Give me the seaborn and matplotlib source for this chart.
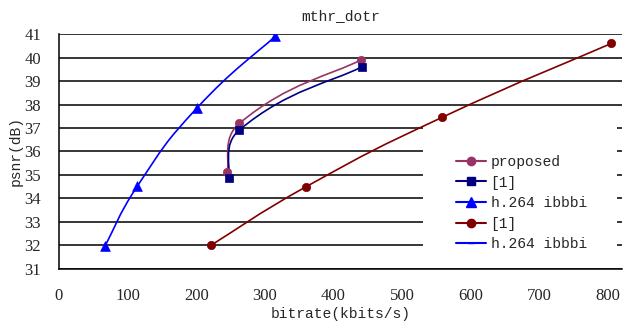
import numpy as np
import pandas as pd
import seaborn as sns
import matplotlib
matplotlib.use("Agg")
from matplotlib import pyplot as plt
from matplotlib.path import Path
from matplotlib.patches import PathPatch, Rectangle
from matplotlib.lines import Line2D

# data
proposed_rate = [245, 263, 440]
proposed_psnr = [35.13, 37.2, 39.9]
ref1_rate = [247, 263, 441]
ref1_psnr = [34.87, 36.92, 39.6]
h264_rate = [67, 114, 201, 315]
h264_psnr = [31.97, 34.52, 37.85, 40.9]
ref1b_rate = [221, 360, 558, 805]
ref1b_psnr = [32.0, 34.5, 37.45, 40.6]

x_ticks = [0, 100, 200, 300, 400, 500, 600, 700, 800]
y_ticks = [31, 32, 33, 34, 35, 36, 37, 38, 39, 40, 41]

series = [
    ("proposed", proposed_rate, proposed_psnr, "#993366", "o", 6),
    ("[1]", ref1_rate, ref1_psnr, "#000080", "s", 6),
    ("h.264 ibbbi", h264_rate, h264_psnr, "#0000FF", "^", 7),
    ("[1]", ref1b_rate, ref1b_psnr, "#800000", "o", 6),
]

TEXT_FONT = ["Liberation Mono", "DejaVu Sans Mono"]
NUM_FONT = ["Liberation Serif", "DejaVu Serif"]


def smooth_path(ax, xs, ys, t=0.5):
    # excel style smoothed line, worked out in screen space
    pts = ax.transData.transform(np.column_stack([xs, ys]))
    n = len(pts)
    verts = [pts[0]]
    codes = [Path.MOVETO]
    for i in range(n - 1):
        a = pts[i - 1] if i > 0 else pts[i]
        b, c = pts[i], pts[i + 1]
        d = pts[i + 2] if i + 2 < n else pts[i + 1]
        dbc = np.hypot(*(c - b))
        dab = np.hypot(*(b - a)) if i > 0 else dbc
        dcd = np.hypot(*(d - c)) if i + 2 < n else dbc
        c1 = b + (c - a) * t * dbc / (dab + dbc)
        c2 = c - (d - b) * t * dbc / (dbc + dcd)
        verts += [c1, c2, c]
        codes += [Path.CURVE4] * 3
    verts = ax.transData.inverted().transform(np.array(verts))
    return Path(verts, codes)


sns.set_style("white")
plt.rcParams["font.family"] = NUM_FONT

fig = plt.figure(figsize=(6.23, 3.27), dpi=100)
ax = fig.add_axes([0.0947, 0.1774, 0.9033, 0.7186])
ax.set_xlim(0, 820)
ax.set_ylim(31, 41)

for y in y_ticks:
    ax.axhline(y, color="black", lw=1.1, zorder=1)

handles = []
for name, xs, ys, col, mk, ms in series:
    ax.add_patch(PathPatch(smooth_path(ax, xs, ys), fill=False, edgecolor=col,
                           lw=1.2, zorder=3))
    df = pd.DataFrame({"rate": xs, "psnr": ys})
    sns.scatterplot(data=df, x="rate", y="psnr", ax=ax, color=col, marker=mk,
                    s=ms ** 2, edgecolor=col, linewidth=0.5, zorder=4)
    handles.append(Line2D([], [], color=col, lw=1.5, marker=mk, markersize=ms,
                          markeredgecolor=col, label=name))
handles.append(Line2D([], [], color="#0000FF", lw=1.5, marker="_",
                      markersize=5, label="h.264 ibbbi"))

ax.set_xticks(x_ticks)
ax.set_yticks(y_ticks)
ax.tick_params(axis="x", direction="in", length=4, labelsize=12, pad=14)
ax.tick_params(axis="y", length=0, labelsize=12, pad=13)
for s in ["top", "right"]:
    ax.spines[s].set_visible(False)
for s in ["left", "bottom"]:
    ax.spines[s].set_color("black")
    ax.spines[s].set_linewidth(1.1)

ax.set_xlabel("bitrate(kbits/s)", fontsize=10.5, family=TEXT_FONT, labelpad=2)
ax.set_ylabel("psnr(dB)", fontsize=10.5, family=TEXT_FONT, labelpad=1)
ax.set_title("mthr_dotr", fontsize=10.5, family=TEXT_FONT, pad=10)

# white legend area covering the grid lines
ax.add_patch(Rectangle((0.6465, 0.06), 0.345, 0.575, transform=ax.transAxes,
                       facecolor="white", edgecolor="none", zorder=2))
leg = ax.legend(handles=handles, loc="upper left", bbox_to_anchor=(0.706, 0.485),
                frameon=False, prop={"family": TEXT_FONT, "size": 10.5},
                handlelength=2.05, handletextpad=0.3, labelspacing=0.45,
                borderpad=0, borderaxespad=0)
leg.set_zorder(5)

fig.savefig("out.png", dpi=100)
